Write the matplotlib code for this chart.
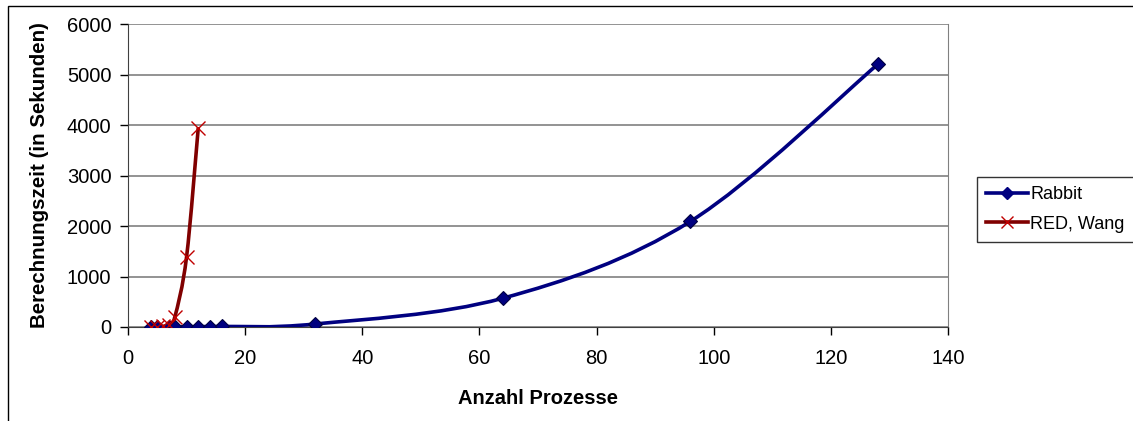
import numpy as np
import matplotlib
matplotlib.use('Agg')
import matplotlib.pyplot as plt
from matplotlib.path import Path
from matplotlib.patches import PathPatch, Rectangle
from matplotlib.lines import Line2D

plt.rcParams['font.family'] = ['Liberation Sans', 'DejaVu Sans']

# Daten
rabbit_x = [4, 5, 7, 8, 10, 12, 14, 16, 32, 64, 96, 128]
rabbit_y = [1, 2, 3, 4, 5, 7, 9, 11, 60, 570, 2090, 5200]
wang_x = [4, 5, 6, 7, 8, 10, 12]
wang_y = [1, 5, 15, 40, 200, 1390, 3950]


# geglaettete Linie wie in Excel (Bezier durch die Punkte)
def smooth_path(xs, ys):
    p = np.column_stack([xs, ys]).astype(float)
    verts = [p[0]]
    codes = [Path.MOVETO]
    n = len(p)
    for i in range(n - 1):
        p0 = p[i - 1] if i > 0 else p[i]
        p1 = p[i]
        p2 = p[i + 1]
        p3 = p[i + 2] if i + 2 < n else p[i + 1]
        c1 = p1 + (p2 - p0) / 6.0
        c2 = p2 - (p3 - p1) / 6.0
        verts += [c1, c2, p2]
        codes += [Path.CURVE4] * 3
    return Path(verts, codes)


fig = plt.figure(figsize=(11.33, 4.21), dpi=100)
ax = fig.add_axes([128 / 1133, 1 - 327 / 421, 820 / 1133, 303 / 421])

blue = '#000080'
red = '#800000'

ax.add_patch(PathPatch(smooth_path(rabbit_x, rabbit_y), fill=False, edgecolor=blue, lw=2.6, zorder=3))
ax.add_patch(PathPatch(smooth_path(wang_x, wang_y), fill=False, edgecolor=red, lw=2.6, zorder=4))
ax.plot(rabbit_x, rabbit_y, ls='none', marker='D', ms=7, mfc=blue, mec='#000040', mew=0.8, zorder=5)
ax.plot(wang_x, wang_y, ls='none', marker='x', ms=10, mec='#c00000', mew=1.0, zorder=6)

ax.set_xlim(0, 140)
ax.set_ylim(0, 6000)
ax.set_xticks(range(0, 141, 20))
ax.set_yticks(range(0, 6001, 1000))
ax.yaxis.grid(True, color='#808080', lw=1.2)
ax.set_axisbelow(True)
ax.tick_params(direction='out', length=6, width=1, labelsize=14.5, colors='#000000')
ax.tick_params(axis='x', pad=10)
ax.tick_params(axis='y', pad=6)
ax.spines['top'].set_visible(False)
ax.spines['right'].set_color('#808080')
ax.spines['left'].set_color('#404040')
ax.spines['bottom'].set_color('#404040')

ax.set_xlabel('Anzahl Prozesse', fontsize=14.5, fontweight='bold', labelpad=15)
ax.set_ylabel('Berechnungszeit (in Sekunden)', fontsize=14.8, fontweight='bold', labelpad=13)

handles = [
    Line2D([], [], color=blue, lw=2.6, marker='D', ms=6, mfc=blue, mec=blue),
    Line2D([], [], color=red, lw=2.6, marker='x', ms=9, mec='#c00000', mew=1.0),
]
leg = fig.legend(handles, ['Rabbit', 'RED, Wang'], loc='upper left',
                 bbox_to_anchor=(977 / 1133, 1 - 177 / 421), fontsize=13,
                 frameon=True, fancybox=False, edgecolor='#000000',
                 handlelength=2.3, handletextpad=0.15, borderpad=0.5,
                 borderaxespad=0, labelspacing=0.7)
leg.get_frame().set_linewidth(1.0)

# Rahmen um das Diagramm
fig.add_artist(Rectangle((8 / 1133, -0.2), 1.2, 1.2 - 6 / 421, transform=fig.transFigure,
                         fill=False, edgecolor='#000000', lw=1.0))

fig.savefig('out.png', dpi=100)
